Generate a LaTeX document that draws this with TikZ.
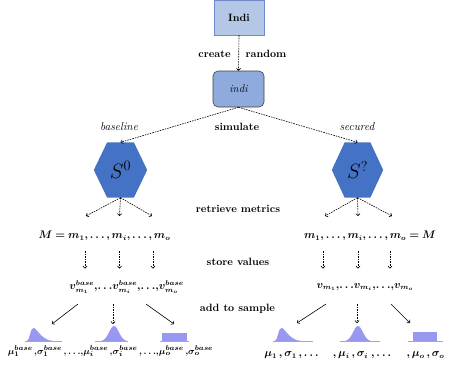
\documentclass[tikz,border=0pt]{standalone}
\usepackage{bm}
\usetikzlibrary{arrows.meta,calc,backgrounds}
\definecolor{hexblue}{HTML}{4472C4}
\definecolor{boxlight}{HTML}{B4C7E7}
\definecolor{boxmid}{HTML}{8FAADC}
\definecolor{boxedge}{HTML}{6F8DC4}
\definecolor{distfill}{RGB}{152,152,240}
\definecolor{basegray}{RGB}{170,170,170}
\begin{document}
\begin{tikzpicture}[x=1pt,y=-1pt,
  lbl/.style={font=\fontsize{10.6}{12}\selectfont\bfseries, inner sep=0},
  ital/.style={font=\fontsize{11.5}{13}\selectfont\itshape, inner sep=0},
  mth/.style={font=\fontsize{10.5}{12}\selectfont, inner sep=0},
  conn/.style={dash pattern=on 1.6pt off 1pt, line width=0.6pt, -{To[length=2.6pt,width=4.5pt]}},
  solidconn/.style={line width=0.6pt, -{To[length=2.6pt,width=4.5pt]}},
  hexnode/.style={minimum width=53pt, minimum height=55pt, inner sep=0, font=\fontsize{21}{24}\selectfont},
  distshape/.style={fill=distfill, draw=none},
  baseln/.style={draw=basegray, line width=0.8pt}
]
\useasboundingbox (0,0) rectangle (449,369);

% top boxes
\node[draw=boxedge, fill=boxlight, line width=0.6pt, minimum width=50pt, minimum height=34.5pt, inner sep=0,
      font=\fontsize{10.6}{12}\selectfont\bfseries] (Indi) at (239,17.6) {Indi};
\node[draw=black!75, fill=boxmid, line width=0.6pt, rounded corners=5pt, minimum width=51pt, minimum height=36pt, inner sep=0,
      font=\fontsize{11}{12}\selectfont\itshape] (indi) at (238.5,89) {indi};
\draw[conn] (Indi.south) -- (indi.north);
\node[lbl] (create) at (214.5,54) {create};
\node[lbl] (random) at (266,54) {random};

% hexagons
\node[hexnode] (s0) at (120.5,170) {$S^0$};
\node[hexnode, minimum width=51pt] (s1) at (357.5,170) {$S^?$};
\begin{scope}[on background layer]
  \foreach \h in {s0,s1}{
    \fill[hexblue] (\h.west) -- ($(\h.north west)!0.25!(\h.north east)$) -- ($(\h.north west)!0.75!(\h.north east)$)
      -- (\h.east) -- ($(\h.south west)!0.75!(\h.south east)$) -- ($(\h.south west)!0.25!(\h.south east)$) -- cycle;
  }
\end{scope}

\node[ital] (baseline) at (119,127) {baseline};
\node[lbl] (simulate) at (237,127) {simulate};
\node[ital] (secured) at (357,127) {secured};
\draw[conn] (indi.south) -- (s0.north);
\draw[conn] (indi.south) -- (s1.north);

% retrieve metrics
\node[lbl] (retrieve) at (238,208.5) {retrieve metrics};
\coordinate (la) at (86,216); \coordinate (lb) at (119.5,216); \coordinate (lc) at (152,216);
\coordinate (ra) at (325,216); \coordinate (rb) at (358,216); \coordinate (rc) at (392,216);
\foreach \t in {la,lb,lc} \draw[conn] (s0.south) -- (\t);
\foreach \t in {ra,rb,rc} \draw[conn] (s1.south) -- (\t);

\node[mth] (Ml) at (104.5,236) {$\bm{M = m_1, \ldots, m_i, \ldots, m_o}$};
\node[mth] (Mr) at (370,236) {$\bm{m_1, \ldots, m_i, \ldots, m_o = M}$};

% store values
\node[lbl] (store) at (238,262) {store values};
\foreach \x/\n in {85/a,119.5/b,153/c,323/d,358/e,390/f}{
  \coordinate (st\n) at (\x,251);
  \coordinate (en\n) at (\x,268.5);
  \draw[conn] (st\n) -- (en\n);
}

\node[mth] (vl) at (126.5,287) {$\bm{v^{base}_{m_1}{,}{\ldots}v^{base}_{m_i}{,}{\ldots}{,}v^{base}_{m_o}}$};
\node[mth] (vr) at (365,287) {$\bm{v_{m_1}{,}{\ldots}v_{m_i}{,}{\ldots}{,}v_{m_o}}$};

% add to sample
\node[lbl] (addto) at (237.5,309) {add to sample};
\coordinate (p1) at (78,304);  \coordinate (q1) at (52,324);
\coordinate (p2) at (113,304); \coordinate (q2) at (113,324);
\coordinate (p3) at (146,304); \coordinate (q3) at (174,324);
\coordinate (p4) at (326,304); \coordinate (q4) at (297,323);
\coordinate (p5) at (357,304); \coordinate (q5) at (357,323);
\coordinate (p6) at (391,304); \coordinate (q6) at (410,323);
\draw[solidconn] (p1) -- (q1);
\draw[conn] (p2) -- (q2);
\draw[solidconn] (p3) -- (q3);
\draw[solidconn] (p4) -- (q4);
\draw[conn] (p5) -- (q5);
\draw[solidconn] (p6) -- (q6);

% distributions left
\draw[baseln] (25,341.5) -- (62,341.5);
\fill[distshape] (27,341) .. controls (30,340) and (30,328) .. (33.5,328) .. controls (37,328) and (41,340) .. (53,341) -- cycle;
\draw[baseln] (95,341.5) -- (128,341.5);
\fill[distshape] (101,341) .. controls (108,340) and (110,326) .. (114,326) .. controls (118,326) and (120,340) .. (127,341) -- cycle;
\draw[baseln] (160,341.5) -- (189,341.5);
\fill[distshape] (162,333) rectangle (187,341);

% distributions right
\draw[baseln] (273,341.5) -- (313,341.5);
\fill[distshape] (275,341) .. controls (278,340) and (278,328) .. (281.5,328) .. controls (285,328) and (289,340) .. (301,341) -- cycle;
\draw[baseln] (340,341.5) -- (380,341.5);
\fill[distshape] (345,341) .. controls (352,340) and (354,326) .. (358,326) .. controls (362,326) and (364,340) .. (371,341) -- cycle;
\draw[baseln] (408,341.5) -- (443,341.5);
\fill[distshape] (413,332) rectangle (437,341);

% bottom labels
\node[mth, font=\fontsize{9.3}{11}\selectfont] (bl) at (110.5,351) {$\bm{\mu^{base}_1\,{,}\sigma^{base}_1\,{,}\,{\ldots}{,}\mu^{base}_i\,{,}\sigma^{base}_i\,{,}\,{\ldots}{,}\mu^{base}_o\,{,}\sigma^{base}_o}$};
\node[mth] (br1) at (291.5,355) {$\bm{\mu_1\,, \sigma_1\,, \ldots}$};
\node[mth] (br2) at (362,355) {$\bm{,\mu_i\,, \sigma_i\;, \ldots}$};
\node[mth] (br3) at (425.5,355) {$\bm{,\mu_o\,, \sigma_o}$};
\end{tikzpicture}
\end{document}
